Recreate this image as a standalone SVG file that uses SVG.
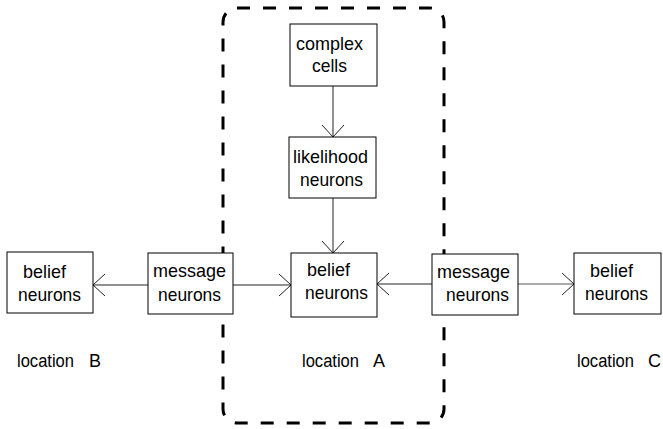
<svg xmlns="http://www.w3.org/2000/svg" width="663" height="429" viewBox="0 0 663 429">
  <style>
    .box { fill: #ffffff; stroke: #000000; stroke-width: 1; }
    .lbl { font-family: "Liberation Sans", Arial, sans-serif; font-size: 19px; fill: #000000; }
    .loc { font-family: "Liberation Sans", Arial, sans-serif; font-size: 18px; fill: #000000; }
    .edge { stroke: #222222; stroke-width: 1; fill: none; marker-end: url(#open); }
    .faint { stroke: #555555; }
    .region { fill: none; stroke: #000000; stroke-width: 3; stroke-dasharray: 13 13; }
  </style>
  <defs>
    <marker id="open" viewBox="-13 -12 15 24" refX="0" refY="0" markerWidth="15" markerHeight="24" markerUnits="userSpaceOnUse" orient="auto">
      <path d="M-12,-11 L0,0 L-12,11" fill="none" stroke="#222222" stroke-width="1"/>
    </marker>
  </defs>

  <!-- dashed outline around location A -->
  <rect class="region" x="223" y="8" width="221" height="415" rx="14" ry="14"/>

  <g id="connectors">
    <line class="edge" x1="333" y1="86" x2="333" y2="137"/>
    <line class="edge" x1="333" y1="198" x2="333" y2="253"/>
    <line class="edge" x1="148" y1="285" x2="93" y2="285"/>
    <line class="edge" x1="233" y1="285" x2="291" y2="285"/>
    <line class="edge" x1="432" y1="284" x2="377" y2="284"/>
    <line class="edge faint" x1="518" y1="284" x2="574" y2="284"/>
  </g>

  <g id="complex-cells">
    <rect class="box" x="290" y="24" width="87" height="62"/>
    <text class="lbl" x="296" y="50" textLength="67" lengthAdjust="spacingAndGlyphs">complex</text>
    <text class="lbl" x="312" y="72" textLength="35" lengthAdjust="spacingAndGlyphs">cells</text>
  </g>

  <g id="likelihood-neurons">
    <rect class="box" x="289" y="137" width="87" height="61"/>
    <text class="lbl" x="293" y="163" textLength="75" lengthAdjust="spacingAndGlyphs">likelihood</text>
    <text class="lbl" x="300" y="186" textLength="63" lengthAdjust="spacingAndGlyphs">neurons</text>
  </g>

  <g id="belief-a">
    <rect class="box" x="291" y="253" width="86" height="64"/>
    <text class="lbl" x="307" y="276" textLength="43" lengthAdjust="spacingAndGlyphs">belief</text>
    <text class="lbl" x="305" y="299" textLength="63" lengthAdjust="spacingAndGlyphs">neurons</text>
  </g>

  <g id="belief-b">
    <rect class="box" x="7" y="252" width="86" height="61"/>
    <text class="lbl" x="23" y="278" textLength="43" lengthAdjust="spacingAndGlyphs">belief</text>
    <text class="lbl" x="18" y="301" textLength="63" lengthAdjust="spacingAndGlyphs">neurons</text>
  </g>

  <g id="message-left">
    <rect class="box" x="148" y="253" width="85" height="61"/>
    <text class="lbl" x="153" y="277" textLength="73" lengthAdjust="spacingAndGlyphs">message</text>
    <text class="lbl" x="158" y="301" textLength="63" lengthAdjust="spacingAndGlyphs">neurons</text>
  </g>

  <g id="message-right">
    <rect class="box" x="432" y="254" width="86" height="61"/>
    <text class="lbl" x="437" y="278" textLength="73" lengthAdjust="spacingAndGlyphs">message</text>
    <text class="lbl" x="446" y="301" textLength="63" lengthAdjust="spacingAndGlyphs">neurons</text>
  </g>

  <g id="belief-c">
    <rect class="box" x="574" y="253" width="87" height="61"/>
    <text class="lbl" x="590" y="277" textLength="43" lengthAdjust="spacingAndGlyphs">belief</text>
    <text class="lbl" x="585" y="300" textLength="63" lengthAdjust="spacingAndGlyphs">neurons</text>
  </g>

  <g id="labels">
    <text class="loc" x="17" y="367" textLength="57" lengthAdjust="spacingAndGlyphs">location</text>
    <text class="loc" x="89" y="367" textLength="12" lengthAdjust="spacingAndGlyphs">B</text>
    <text class="loc" x="302" y="367" textLength="57" lengthAdjust="spacingAndGlyphs">location</text>
    <text class="loc" x="373" y="367" textLength="12" lengthAdjust="spacingAndGlyphs">A</text>
    <text class="loc" x="577" y="367" textLength="57" lengthAdjust="spacingAndGlyphs">location</text>
    <text class="loc" x="648" y="367" textLength="13" lengthAdjust="spacingAndGlyphs">C</text>
  </g>
</svg>
